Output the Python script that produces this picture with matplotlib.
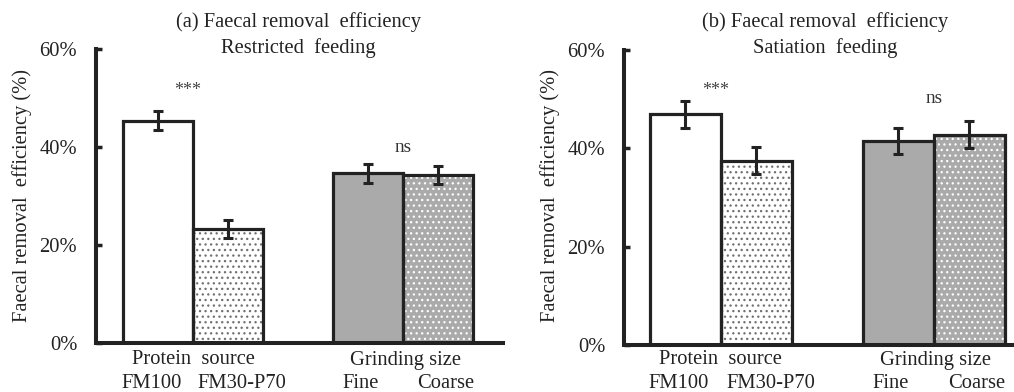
import matplotlib
matplotlib.use("Agg")
import matplotlib.pyplot as plt
import numpy as np

# ---- data ----
categories = ["FM100", "FM30-P70", "Fine", "Coarse"]
groups = ["Protein  source", "Grinding size"]
restricted_vals = [45.4, 23.3, 34.6, 34.3]
restricted_err = [2.0, 1.9, 1.85, 1.9]
satiation_vals = [46.9, 37.5, 41.5, 42.8]
satiation_err = [2.7, 2.7, 2.7, 2.7]
yticks = [0, 20, 40, 60]
ytick_labels = ["0%", "20%", "40%", "60%"]
titles = [("(a) Faecal removal  efficiency", "Restricted  feeding"),
          ("(b) Faecal removal  efficiency", "Satiation  feeding")]
signif = [("***", "ns"), ("***", "ns")]
ylabel = "Faecal removal  efficiency (%)"

plt.rcParams['font.family'] = ['Liberation Serif', 'DejaVu Serif']
plt.rcParams['hatch.linewidth'] = 0.9

W, H = 1014, 392
fig = plt.figure(figsize=(W / 100, H / 100), dpi=100)

DARK = "#222222"
GRAY = "#aaaaaa"
FS = 14.8

panels = [
    dict(ax_px=(96, 343, 503, 49), left=-0.386, right=5.43,
         vals=restricted_vals, err=restricted_err, title=titles[0], sig=signif[0],
         sig_y=(51.6, 39.8), ylab_x=22, title_cx=298),
    dict(ax_px=(624, 345, 1014, 50), left=-0.366, right=5.13,
         vals=satiation_vals, err=satiation_err, title=titles[1], sig=signif[1],
         sig_y=(51.8, 50.2), ylab_x=550, title_cx=825),
]

xpos = np.array([0.5, 1.5, 3.5, 4.5])
faces = ["white", "white", GRAY, GRAY]
hatches = [None, "...", None, "..."]
hatch_cols = [None, "#707070", None, "white"]
label_x = [0.41, 1.70, 3.39, 4.61]

for p in panels:
    x0, yb, x1, yt = p["ax_px"]
    ax = fig.add_axes([x0 / W, 1 - yb / H, (x1 - x0) / W, (yb - yt) / H])
    ax.set_xlim(p["left"], p["right"])
    ax.set_ylim(0, 60)
    for i in range(4):
        if hatches[i]:
            ax.bar(xpos[i], p["vals"][i], width=1.0, facecolor=faces[i],
                   edgecolor=hatch_cols[i], hatch=hatches[i], linewidth=0, zorder=2)
        else:
            ax.bar(xpos[i], p["vals"][i], width=1.0, facecolor=faces[i],
                   edgecolor="none", linewidth=0, zorder=2)
    ax.bar(xpos, p["vals"], width=1.0, facecolor="none", edgecolor=DARK,
           linewidth=2.3, zorder=3)
    ax.errorbar(xpos, p["vals"], yerr=p["err"], fmt="none", ecolor=DARK,
                elinewidth=2.2, capsize=3.8, capthick=2.2, zorder=4)
    for s in ["top", "right"]:
        ax.spines[s].set_visible(False)
    for s in ["left", "bottom"]:
        ax.spines[s].set_linewidth(2.9)
        ax.spines[s].set_color(DARK)
    ax.set_yticks(yticks)
    ax.set_yticklabels(ytick_labels, fontsize=FS, color="#222222")
    ax.tick_params(axis="y", direction="in", length=4, width=2.5, color=DARK, pad=13.5)
    ax.set_xticks([])
    ax.text(0.93, p["sig_y"][0], p["sig"][0], ha="center", va="center",
            fontsize=13, color="#444444")
    ax.text(4.0, p["sig_y"][1], p["sig"][1], ha="center", va="center",
            fontsize=FS - 1, color="#333333")
    grp_y = 1 - 360 / H
    for gx, g in zip([1.0, 4.03], groups):
        xf = fig.transFigure.inverted().transform(ax.transData.transform((gx, 0)))[0]
        fig.text(xf, grp_y, g, ha="center", va="center", fontsize=FS, color="#222222")
    for lx, lab in zip(label_x, categories):
        xf = fig.transFigure.inverted().transform(ax.transData.transform((lx, 0)))[0]
        fig.text(xf, 1 - 388 / H, lab, ha="center", va="baseline",
                 fontsize=FS, color="#222222")
    fig.text(p["title_cx"] / W, 1 - 22 / H, p["title"][0], ha="center", va="center",
             fontsize=FS, color="#222222")
    fig.text(p["title_cx"] / W, 1 - 48 / H, p["title"][1], ha="center", va="center",
             fontsize=FS, color="#222222")
    fig.text(p["ylab_x"] / W, 1 - 196 / H, ylabel, rotation=90, ha="center",
             va="center", fontsize=FS, color="#222222")

fig.savefig("out.png", dpi=100)
